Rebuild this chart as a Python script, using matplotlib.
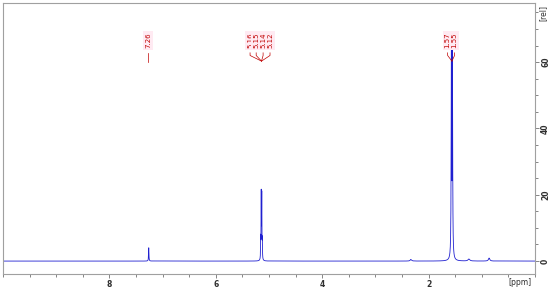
import numpy as np
import matplotlib
matplotlib.use('Agg')
import matplotlib.pyplot as plt
from matplotlib.ticker import MultipleLocator

# peak list: position [ppm], height [rel], half width [ppm]
peak_pos = [7.26, 5.155, 5.145, 5.135, 5.125, 1.57, 1.55, 2.33, 1.24, 0.86]
peak_height = [4.0, 6.0, 19.5, 19.0, 5.5, 60.0, 61.0, 0.5, 0.6, 0.9]
peak_width = [0.004, 0.003, 0.003, 0.003, 0.003, 0.005, 0.005, 0.015, 0.02, 0.015]

# peak pick labels
label_text = ['7.26', '5.16', '5.15', '5.14', '5.12', '1.57', '1.55']
label_x = [7.27, 5.355, 5.24, 5.11, 4.98, 1.64, 1.51]
label_target = [7.26, 5.14, 5.14, 5.14, 5.14, 1.56, 1.56]

x_ticks = [8, 6, 4, 2]
y_ticks = [0, 20, 40, 60]


def spectrum(ppm):
    y = np.zeros_like(ppm)
    for p, h, w in zip(peak_pos, peak_height, peak_width):
        y += h * w ** 2 / ((ppm - p) ** 2 + w ** 2)
    return y


def main():
    fig = plt.figure(figsize=(5.5, 2.91), dpi=100)
    ax = fig.add_axes([0.0055, 0.0584, 0.967, 0.931])

    ppm = np.linspace(0, 10, 40001)
    ax.plot(ppm, spectrum(ppm), color='#2020d0', lw=0.6)

    ax.set_xlim(10, 0)
    ax.set_ylim(-3.9, 77.8)

    for s in ax.spines.values():
        s.set_color('#a0a0a0')
        s.set_linewidth(0.8)

    ax.yaxis.tick_right()
    ax.set_xticks(x_ticks)
    ax.set_yticks(y_ticks)
    ax.xaxis.set_minor_locator(MultipleLocator(0.5))
    ax.yaxis.set_minor_locator(MultipleLocator(5))
    ax.tick_params(axis='both', which='both', color='#707070', width=0.6,
                   labelsize=5.5, direction='out')
    ax.tick_params(which='major', length=3)
    ax.tick_params(which='minor', length=2.5)
    ax.tick_params(axis='x', pad=1.5)
    ax.tick_params(axis='y', pad=1.5)
    for lab in ax.get_xticklabels() + ax.get_yticklabels():
        lab.set_fontweight('bold')
        lab.set_color('#303030')
    for lab in ax.get_yticklabels():
        lab.set_rotation(90)
        lab.set_va('center')

    fig.text(0.946, 0.03, '[ppm]', fontsize=5.5, color='#303030', ha='center', va='center')
    fig.text(0.987, 0.955, '[rel]', fontsize=5.5, color='#303030', ha='center', va='center',
             rotation=90)

    # peak labels with connector lines
    for txt, lx, tx in zip(label_text, label_x, label_target):
        ax.text(lx, 66.5, txt, rotation=90, fontsize=5, color='#c00000',
                ha='center', va='center',
                bbox=dict(boxstyle='square,pad=0.25', fc='#ffeaf2', ec='none'))
        if abs(lx - tx) < 0.02:
            ax.plot([lx, lx], [62.8, 60.0], color='#c00000', lw=0.5)
        else:
            ax.plot([lx, lx, tx], [62.8, 62.0, 60.3], color='#c00000', lw=0.5)

    plt.savefig('out.png', dpi=100)


if __name__ == '__main__':
    main()
